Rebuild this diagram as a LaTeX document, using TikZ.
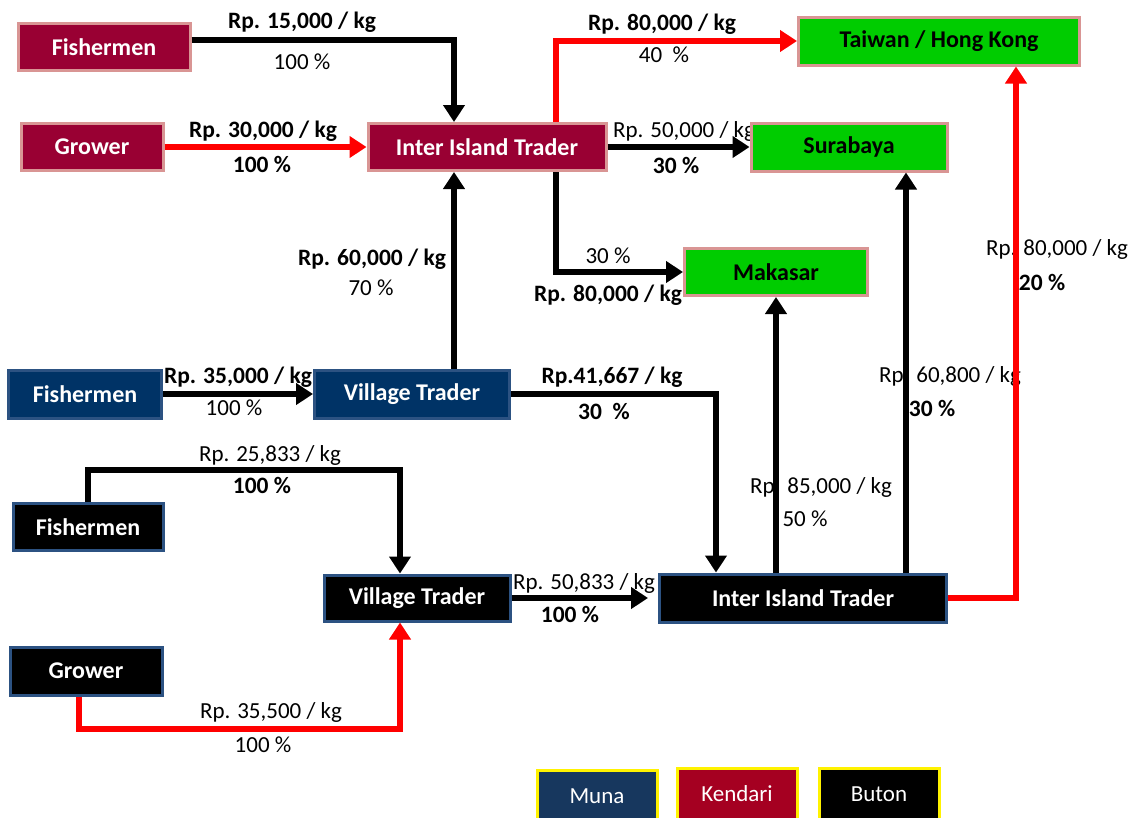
\documentclass[tikz,border=0pt]{standalone}
\usepackage{fontspec}
\setmainfont{Carlito}
\usetikzlibrary{arrows.meta}
\definecolor{kendari}{HTML}{990033}
\definecolor{muna}{HTML}{003366}
\definecolor{dest}{HTML}{00CC00}
\definecolor{pinkb}{HTML}{D99594}
\definecolor{blueb}{HTML}{2C5282}
\definecolor{legmuna}{HTML}{17375E}
\definecolor{legkendari}{HTML}{A50021}
\pgfdeclarelayer{bg}
\pgfsetlayers{bg,main}
\begin{document}
\begin{tikzpicture}[x=1pt,y=-1pt,
  box/.style={draw, line width=3pt, inner sep=0pt, text=white,
    font=\fontsize{24}{28}\selectfont\bfseries},
  kbox/.style={box, fill=kendari, draw=pinkb},
  gbox/.style={box, fill=dest, draw=pinkb, text=black},
  mbox/.style={box, fill=muna, draw=blueb},
  bbox/.style={box, fill=black, draw=blueb},
  legbox/.style={draw=yellow, line width=3pt, inner sep=0pt, text=white,
    minimum width=120pt, minimum height=60pt, font=\fontsize{23}{27}\selectfont},
  flow/.style={line width=6.5pt, -{Triangle[length=17pt,width=21pt]}},
  redflow/.style={flow, draw=red, line width=5.5pt},
  lbl/.style={inner sep=0pt, font=\fontsize{23}{27}\selectfont},
  blbl/.style={inner sep=0pt, font=\fontsize{23.5}{27}\selectfont\bfseries}]

\clip (0,0) rectangle (1137,817);

% Kendari chain
\node[kbox, minimum width=172pt, minimum height=47pt] (fk) at (104,47) {Fishermen};
\node[kbox, minimum width=142pt, minimum height=47pt] (gk) at (92,147) {Grower};
\node[kbox, minimum width=238pt, minimum height=47pt] (kiit) at (487,147) {Inter Island Trader};

% destinations
\node[gbox, minimum width=281pt, minimum height=48pt] (tw) at (939,41) {Taiwan / Hong Kong};
\node[gbox, minimum width=196pt, minimum height=48pt] (sur) at (849,147) {Surabaya};
\node[gbox, minimum width=183pt, minimum height=47pt] (mak) at (776,272) {Makasar};

% Muna chain
\node[mbox, minimum width=153pt, minimum height=48pt] (fm) at (85,394) {Fishermen};
\node[mbox, minimum width=195pt, minimum height=48pt] (vtm) at (412,394) {Village Trader};

% Buton chain
\node[bbox, minimum width=150pt, minimum height=47pt] (fb) at (88,527) {Fishermen};
\node[bbox, minimum width=186pt, minimum height=46pt] (vtb) at (417,598) {Village Trader};
\node[bbox, minimum width=152pt, minimum height=48pt] (gb) at (86,671) {Grower};
\node[bbox, minimum width=287pt, minimum height=48pt] (kib) at (803,598) {Inter Island Trader};

% legend
\node[legbox, fill=legmuna] (legm) at (597,800) {\raisebox{8pt}{Muna}};
\node[legbox, fill=legkendari] (legk) at (737,798) {\raisebox{8pt}{Kendari}};
\node[legbox, fill=black] (legb) at (879,798) {\raisebox{8pt}{Buton}};

% price and share labels, kept beneath the boxes and flows
\begin{pgfonlayer}{bg}
\fill[white] (0,0) rectangle (1137,817);
\node[blbl] (l1) at (302,22) {Rp. 15,000 / kg};
\node[lbl]  (l2) at (302,62) {100 \%};
\node[blbl] (l3) at (263,131) {Rp. 30,000 / kg};
\node[blbl] (l4) at (262,164) {100 \%};
\node[blbl] (l5) at (662,24) {Rp. 80,000 / kg};
\node[lbl]  (l6) at (664,55) {40\ \ \%};
\node[lbl]  (l7) at (684,131) {Rp. 50,000 / kg};
\node[blbl] (l8) at (676,165) {30 \%};
\node[lbl]  (l9) at (608,256) {30 \%};
\node[blbl] (l10) at (608,295) {Rp. 80,000 / kg};
\node[blbl] (l11) at (372,259) {Rp. 60,000 / kg};
\node[lbl]  (l12) at (371,288) {70 \%};
\node[blbl] (l13) at (238,377) {Rp. 35,000 / kg};
\node[lbl]  (l14) at (234,408) {100 \%};
\node[blbl] (l15) at (612,377) {Rp.41,667 / kg};
\node[blbl] (l16) at (604,411) {30\ \ \%};
\node[lbl]  (l17) at (270,455) {Rp. 25,833 / kg};
\node[blbl] (l18) at (262,485) {100 \%};
\node[lbl]  (l19) at (584,583) {Rp. 50,833 / kg};
\node[blbl] (l20) at (570,614) {100 \%};
\node[lbl]  (l21) at (271,712) {Rp. 35,500 / kg};
\node[lbl]  (l22) at (263,745) {100 \%};
\node[lbl]  (l23) at (821,487) {Rp. 85,000 / kg};
\node[lbl]  (l24) at (805,519) {50 \%};
\node[lbl]  (l25) at (950,376) {Rp. 60,800 / kg};
\node[blbl] (l26) at (932,408) {30 \%};
\node[lbl]  (l27) at (1057,249) {Rp. 80,000 / kg};
\node[blbl] (l28) at (1042,282) {20 \%};
\end{pgfonlayer}

% bends of the Buton supply routes
\coordinate (bendf) at (400,470);
\coordinate (bendg) at (400,729);

% flows
\draw[flow] ([yshift=7pt]fk.east) -| ([xshift=-33pt]kiit.north);
\draw[redflow] (gk.east) -- (kiit.west);
\draw[redflow] ([xshift=69pt]kiit.north) |- (tw.west);
\draw[flow] (kiit.east) -- (sur.west);
\draw[flow] ([xshift=69pt]kiit.south) |- (mak.west);
\draw[flow] ([xshift=42pt]vtm.north) -- ([xshift=-33pt]kiit.south);
\draw[flow] (fm.east) -- (vtm.west);
\draw[flow] (vtm.east) -| ([xshift=-87pt]kib.north);
\draw[flow] (fb.north) |- (bendf) -- ([xshift=-17pt]vtb.north);
\draw[flow, shorten >=10pt] (vtb.east) -- (kib.west);
\draw[redflow] ([xshift=-7pt]gb.south) |- (bendg) -- ([xshift=-17pt]vtb.south);
\draw[flow] ([xshift=-27pt]kib.north) -- (mak.south);
\draw[flow] ([xshift=103pt]kib.north) -- ([xshift=57pt]sur.south);
\draw[redflow] (kib.east) -| ([xshift=77pt]tw.south);
\end{tikzpicture}
\end{document}
